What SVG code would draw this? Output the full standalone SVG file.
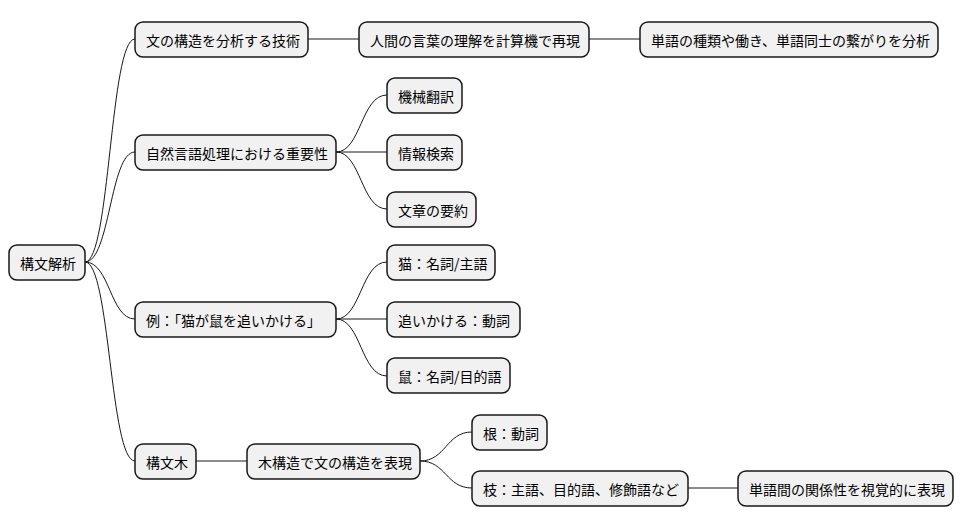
<svg xmlns="http://www.w3.org/2000/svg" width="964" height="527" viewBox="0 0 964 527">
<style>
.n rect{fill:#f1f1f1;stroke:#181818;stroke-width:1.5}
.n text{font-family:"Noto Sans CJK JP","Noto Sans",sans-serif;font-size:14px;fill:#000;dominant-baseline:central}
.c path{fill:none;stroke:#181818;stroke-width:1}
</style>
<rect width="964" height="527" fill="#fff"/>
<g class="c">
<path d="M85,262 C110,262 110,39 135,39"/>
<path d="M85,262 C110,262 110,152 135,152"/>
<path d="M85,262 C110,262 110,319 135,319"/>
<path d="M85,262 C110,262 110,461 135,461"/>
<path d="M308,39 L359,39"/>
<path d="M589,39 L640,39"/>
<path d="M336,152 C361,152 361,95 387,95"/>
<path d="M336,152 L387,152"/>
<path d="M336,152 C361,152 361,209 387,209"/>
<path d="M336,319 C361,319 361,262 387,262"/>
<path d="M336,319 L387,319"/>
<path d="M336,319 C361,319 361,376 387,376"/>
<path d="M196,461 L247,461"/>
<path d="M420,461 C446,461 446,432 472,432"/>
<path d="M420,461 C446,461 446,488 472,488"/>
<path d="M688,488 L738,488"/>
</g>
<g id="root" class="n"><rect x="9" y="245" width="76" height="35" rx="8"/><text x="20" y="262.5">構文解析</text></g>
<g id="n1" class="n"><rect x="135" y="22" width="173" height="35" rx="8"/><text x="146" y="39.5">文の構造を分析する技術</text></g>
<g id="n1a" class="n"><rect x="359" y="22" width="230" height="35" rx="8"/><text x="370" y="39.5">人間の言葉の理解を計算機で再現</text></g>
<g id="n1b" class="n"><rect x="640" y="22" width="298" height="35" rx="8"/><text x="651" y="39.5">単語の種類や働き、単語同士の繋がりを分析</text></g>
<g id="n2" class="n"><rect x="135" y="135" width="201" height="35" rx="8"/><text x="146" y="152.5">自然言語処理における重要性</text></g>
<g id="n2a" class="n"><rect x="387" y="78" width="75" height="35" rx="8"/><text x="398" y="95.5">機械翻訳</text></g>
<g id="n2b" class="n"><rect x="387" y="135" width="75" height="35" rx="8"/><text x="398" y="152.5">情報検索</text></g>
<g id="n2c" class="n"><rect x="387" y="192" width="89" height="35" rx="8"/><text x="398" y="209.5">文章の要約</text></g>
<g id="n3" class="n"><rect x="135" y="302" width="201" height="35" rx="8"/><text x="146" y="319.5">例：「猫が鼠を追いかける」</text></g>
<g id="n3a" class="n"><rect x="387" y="245" width="108" height="35" rx="8"/><text x="398" y="262.5">猫：名詞/主語</text></g>
<g id="n3b" class="n"><rect x="387" y="302" width="133" height="35" rx="8"/><text x="398" y="319.5">追いかける：動詞</text></g>
<g id="n3c" class="n"><rect x="387" y="358" width="123" height="35" rx="8"/><text x="398" y="375.5">鼠：名詞/目的語</text></g>
<g id="n4" class="n"><rect x="135" y="444" width="61" height="35" rx="8"/><text x="146" y="461.5">構文木</text></g>
<g id="n4a" class="n"><rect x="247" y="444" width="173" height="35" rx="8"/><text x="258" y="461.5">木構造で文の構造を表現</text></g>
<g id="n4b" class="n"><rect x="472" y="415" width="75" height="35" rx="8"/><text x="483" y="432.5">根：動詞</text></g>
<g id="n4c" class="n"><rect x="472" y="471" width="216" height="35" rx="8"/><text x="483" y="488.5">枝：主語、目的語、修飾語など</text></g>
<g id="n4d" class="n"><rect x="738" y="471" width="215" height="35" rx="8"/><text x="749" y="488.5">単語間の関係性を視覚的に表現</text></g>
</svg>
